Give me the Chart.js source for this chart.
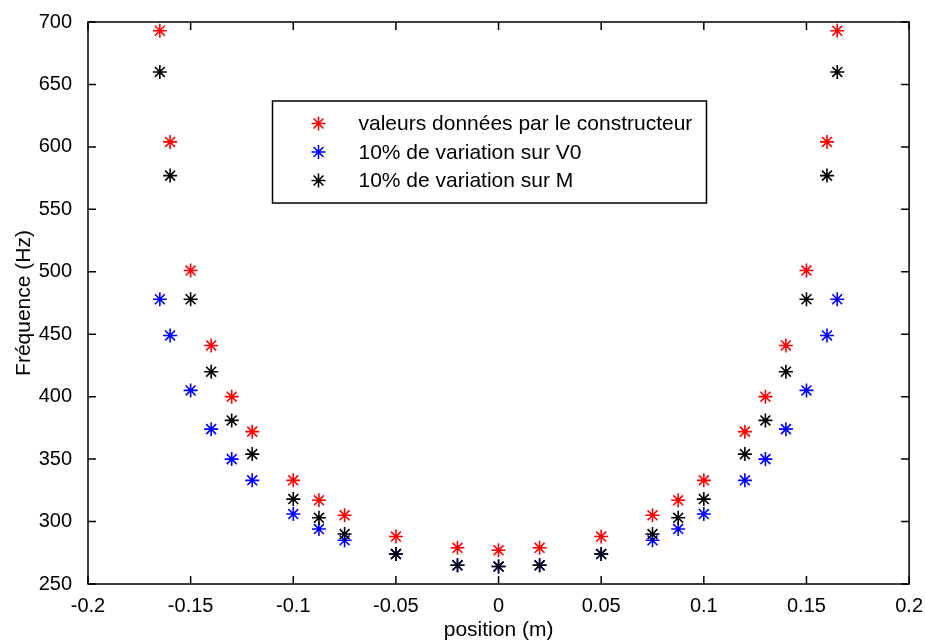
<!DOCTYPE html>
<html>
<head>
<meta charset="utf-8">
<script src="https://cdn.jsdelivr.net/npm/chart.js@4.4.1/dist/chart.umd.min.js"></script>
<style>
  html, body { margin: 0; padding: 0; background: #fff; }
  #wrap { width: 925px; height: 644px; }
</style>
</head>
<body>
<div id="wrap"><canvas id="freqChart" width="925" height="644"></canvas></div>
<script>
// positions (m) and frequencies (Hz)
const positions = [-0.165, -0.16, -0.15, -0.14, -0.13, -0.12, -0.1, -0.0875, -0.075, -0.05, -0.02, 0,
                   0.02, 0.05, 0.075, 0.0875, 0.1, 0.12, 0.13, 0.14, 0.15, 0.16, 0.165];
const freqConstructeur = [693, 604, 501, 441, 400, 372, 333, 317, 305, 288, 279, 277,
                          279, 288, 305, 317, 333, 372, 400, 441, 501, 604, 693];
const freqVarV0 = [478, 449, 405, 374, 350, 333, 306, 294, 285, 274, 265, 264,
                   265, 274, 285, 294, 306, 333, 350, 374, 405, 449, 478];
const freqVarM = [660, 577, 478, 420, 381, 354, 318, 303, 290, 274, 265, 264,
                  265, 274, 290, 303, 318, 354, 381, 420, 478, 577, 660];

const seriesLabels = ['valeurs données par le constructeur', '10% de variation sur V0', '10% de variation sur M'];
const seriesColors = ['#ff0000', '#0000ff', '#000000'];

const xTickValues = [-0.2, -0.15, -0.1, -0.05, 0, 0.05, 0.1, 0.15, 0.2];
const xTickLabels = ['-0.2', '-0.15', '-0.1', '-0.05', '0', '0.05', '0.1', '0.15', '0.2'];
const yTickValues = [250, 300, 350, 400, 450, 500, 550, 600, 650, 700];

const FONT = "'Liberation Sans', Arial, sans-serif";

function toPoints(values) {
    return positions.map((x, i) => ({ x: x, y: values[i] }));
}

// box round the axes with inward ticks, matlab style
const axesBox = {
    id: 'axesBox',
    afterDatasetsDraw(chart) {
        const ctx = chart.ctx;
        const a = chart.chartArea;
        const xs = chart.scales.x, ys = chart.scales.y;
        const len = 8;
        ctx.save();
        ctx.strokeStyle = '#000';
        ctx.lineWidth = 1.5;
        ctx.strokeRect(a.left, a.top, a.right - a.left, a.bottom - a.top);
        ctx.beginPath();
        xTickValues.forEach(v => {
            const px = xs.getPixelForValue(v);
            ctx.moveTo(px, a.bottom); ctx.lineTo(px, a.bottom - len);
            ctx.moveTo(px, a.top); ctx.lineTo(px, a.top + len);
        });
        yTickValues.forEach(v => {
            const py = ys.getPixelForValue(v);
            ctx.moveTo(a.left, py); ctx.lineTo(a.left + len, py);
            ctx.moveTo(a.right, py); ctx.lineTo(a.right - len, py);
        });
        ctx.stroke();
        ctx.restore();
    }
};

// legend box inside the axes
const innerLegend = {
    id: 'innerLegend',
    afterDraw(chart) {
        const ctx = chart.ctx;
        const box = { x: 272.5, y: 101, w: 434, h: 102 };
        ctx.save();
        ctx.fillStyle = '#fff';
        ctx.fillRect(box.x, box.y, box.w, box.h);
        ctx.strokeStyle = '#000';
        ctx.lineWidth = 1.5;
        ctx.strokeRect(box.x, box.y, box.w, box.h);
        ctx.font = '21px ' + FONT;
        ctx.textBaseline = 'middle';
        ctx.textAlign = 'left';
        chart.data.datasets.forEach((ds, i) => {
            const cy = box.y + 22.5 + i * 28.5;
            ctx.strokeStyle = ds.borderColor;
            ctx.lineWidth = ds.borderWidth;
            Chart.helpers.drawPoint(ctx, { pointStyle: 'star', radius: 7, borderWidth: ds.borderWidth }, box.x + 46, cy);
            ctx.fillStyle = '#000';
            ctx.fillText(ds.label, box.x + 86, cy + 1);
        });
        ctx.restore();
    }
};

const datasets = [freqConstructeur, freqVarV0, freqVarM].map((vals, i) => ({
    label: seriesLabels[i],
    data: toPoints(vals),
    showLine: false,
    pointStyle: 'star',
    pointRadius: 7,
    pointHoverRadius: 7,
    borderWidth: 1.6,
    borderColor: seriesColors[i],
    backgroundColor: seriesColors[i],
    order: 2 - i
}));

new Chart(document.getElementById('freqChart'), {
    type: 'scatter',
    data: { datasets: datasets },
    options: {
        responsive: false,
        animation: false,
        layout: { padding: { top: 22, right: 14, left: 0, bottom: 0 } },
        plugins: {
            legend: { display: false },
            tooltip: { enabled: false }
        },
        scales: {
            x: {
                type: 'linear',
                min: -0.2,
                max: 0.2,
                afterBuildTicks: s => { s.ticks = xTickValues.map(v => ({ value: v })); },
                afterFit: s => { s.height = 60; },
                grid: { display: false },
                border: { display: false },
                ticks: {
                    color: '#000',
                    font: { family: FONT, size: 20 },
                    padding: 2,
                    maxRotation: 0,
                    autoSkip: false,
                    callback: (v, i) => xTickLabels[i]
                },
                title: {
                    display: true,
                    text: 'position (m)',
                    color: '#000',
                    font: { family: FONT, size: 21 },
                    padding: { top: 0, bottom: 1 }
                }
            },
            y: {
                type: 'linear',
                min: 250,
                max: 700,
                afterBuildTicks: s => { s.ticks = yTickValues.map(v => ({ value: v })); },
                afterFit: s => { s.width = 88; },
                grid: { display: false },
                border: { display: false },
                ticks: {
                    color: '#000',
                    font: { family: FONT, size: 20 },
                    padding: 8,
                    autoSkip: false
                },
                title: {
                    display: true,
                    text: 'Fréquence (Hz)',
                    color: '#000',
                    font: { family: FONT, size: 21 },
                    padding: { top: 12, bottom: 0 }
                }
            }
        }
    },
    plugins: [axesBox, innerLegend]
});
</script>
</body>
</html>
